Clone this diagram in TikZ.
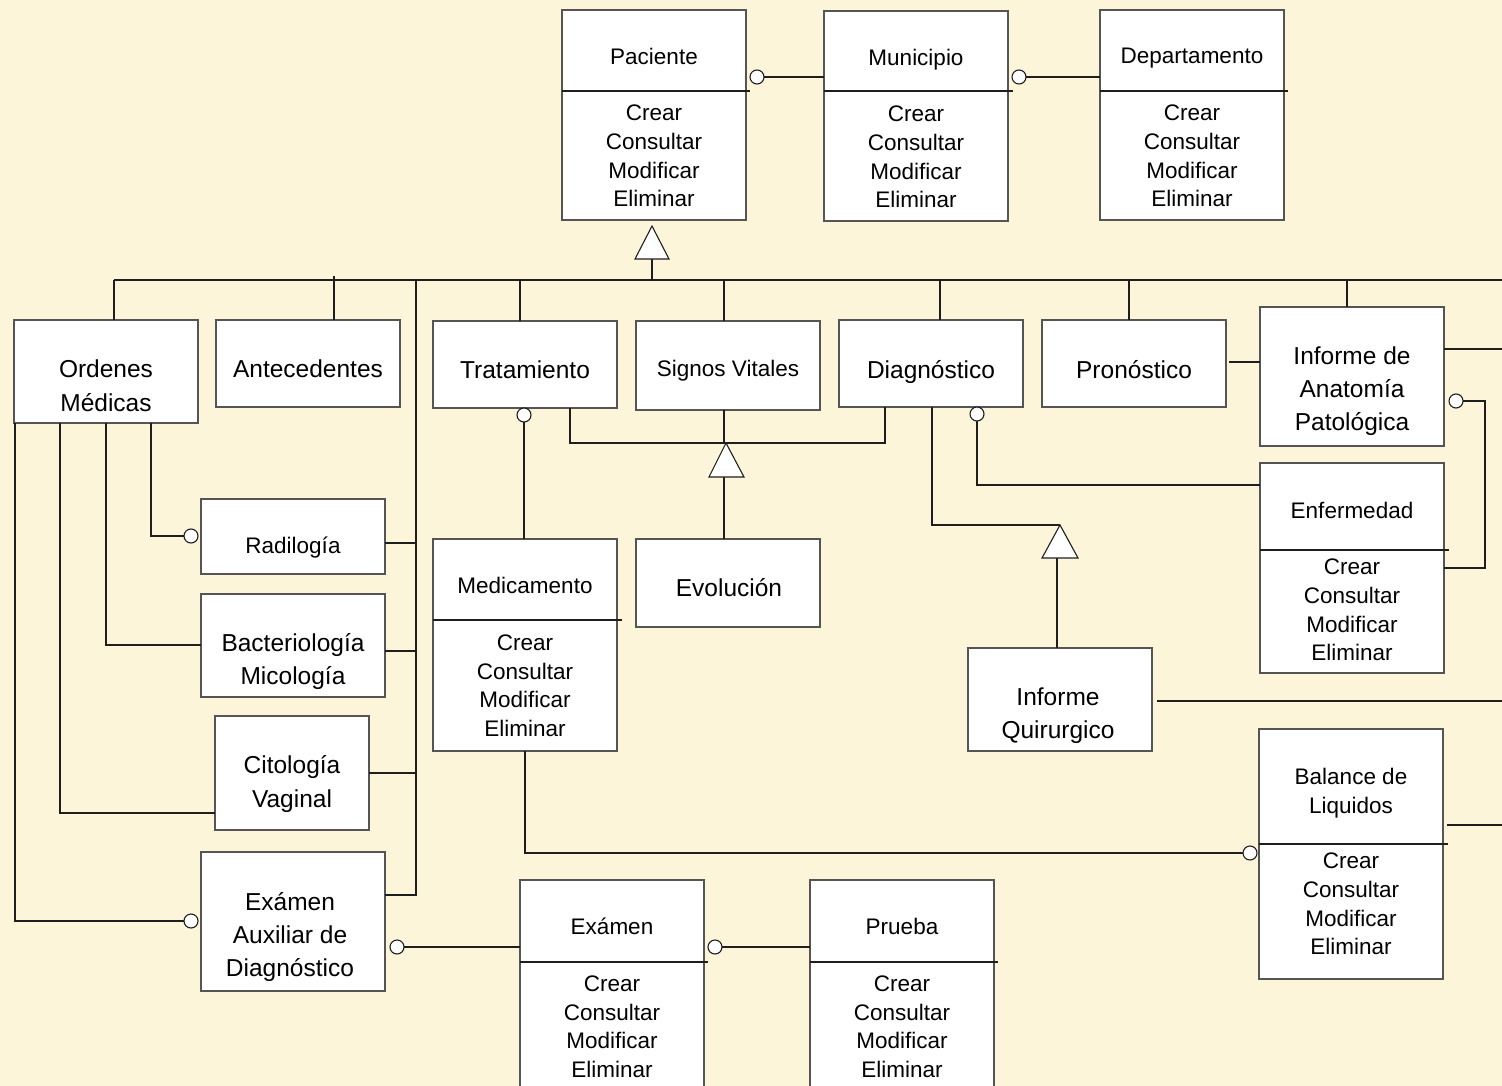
\documentclass[tikz,border=0pt]{standalone}
\usepackage{fontspec}
\setmainfont{Liberation Sans}
\definecolor{bgcol}{RGB}{252,245,218}
\definecolor{boxgray}{RGB}{85,85,85}
\definecolor{linecol}{RGB}{30,30,30}
\tikzset{
  box/.style={draw=boxgray, line width=1.3pt, fill=white, rectangle, inner sep=0pt, outer sep=0pt},
  conn/.style={draw=linecol, line width=1.1pt},
  divl/.style={draw=linecol, line width=1.1pt},
  circ/.style={circle, draw=linecol, fill=white, line width=1.1pt, minimum size=14pt, inner sep=0pt, outer sep=0pt},
  tri/.style={draw=linecol, fill=white, line width=1.1pt, line join=miter},
  ctext/.style={font=\fontsize{22.5}{28.7}\selectfont, align=center, text depth=0pt, inner sep=0pt},
  btext/.style={font=\fontsize{24.5}{33.3}\selectfont, align=center, text depth=0pt, inner sep=0pt},
}
\begin{document}
\begin{tikzpicture}[x=1pt,y=-1pt]
\useasboundingbox (0,0) rectangle (1502,1086);
\clip (0,0) rectangle (1502,1086);
\fill[bgcol] (0,0) rectangle (1502,1086);

% ---------- top row classes ----------
\node[box, minimum width=184pt, minimum height=210pt] (paciente) at (654,115) {};
\node[ctext] (pacienteH) at (654,56) {Paciente};
\node[ctext] (pacienteM) at (654,156) {Crear\\Consultar\\Modificar\\Eliminar};
\draw[divl] (paciente.west |- 0,91) -- (750,91);

\node[box, minimum width=184pt, minimum height=210pt] (municipio) at (916,116) {};
\node[ctext] (municipioH) at (916,57) {Municipio};
\node[ctext] (municipioM) at (916,157) {Crear\\Consultar\\Modificar\\Eliminar};
\draw[divl] (municipio.west |- 0,91) -- (1013,91);

\node[box, minimum width=184pt, minimum height=210pt] (departamento) at (1192,115) {};
\node[ctext] (departamentoH) at (1192,56) {Departamento};
\node[ctext] (departamentoM) at (1192,156) {Crear\\Consultar\\Modificar\\Eliminar};
\draw[divl] (departamento.west |- 0,91) -- (1288,91);

\node[circ] (c1) at (757,77) {};
\draw[conn] (c1) -- (municipio.west |- c1);
\node[circ] (c2) at (1019,77) {};
\draw[conn] (c2) -- (departamento.west |- c2);

% ---------- generalisation from Paciente ----------
\coordinate (t1a) at (652,226);
\coordinate (t1b) at (652,259);
\coordinate (t1c) at (652,280);
\draw[conn] (t1b) -- (t1c);
\draw[tri] (t1a) -- (635,259) -- (669,259) -- cycle;

% ---------- second row ----------
\node[box, minimum width=184pt, minimum height=103pt] (ordenes) at (106,371.5) {};
\node[btext] (ordenesT) at (106,385.5) {Ordenes\\Médicas};

\node[box, minimum width=184pt, minimum height=87pt] (antecedentes) at (308,363.5) {};
\node[btext] (antecedentesT) at (308,369) {Antecedentes};

\node[box, minimum width=184pt, minimum height=87pt] (tratamiento) at (525,364.5) {};
\node[btext] (tratamientoT) at (525,370) {Tratamiento};

\node[box, minimum width=184pt, minimum height=89pt] (signos) at (728,365.5) {};
\node[ctext] (signosT) at (728,368) {Signos Vitales};

\node[box, minimum width=184pt, minimum height=87pt] (diagnostico) at (931,363.5) {};
\node[btext] (diagnosticoT) at (931,369) {Diagnóstico};

\node[box, minimum width=184pt, minimum height=87pt] (pronostico) at (1134,363.5) {};
\node[btext] (pronosticoT) at (1134,369) {Pronóstico};

\node[box, minimum width=184pt, minimum height=139pt] (anatomia) at (1352,376.5) {};
\node[btext] (anatomiaT) at (1352,388.5) {Informe de\\Anatomía\\Patológica};

% ---------- bus ----------
\coordinate (bL) at (114,280);
\coordinate (bR) at (1502,280);
\draw[conn] (bL) -- (bR);
\draw[conn] (bL) -- (bL |- ordenes.north);
\coordinate (bA) at (334,276);
\draw[conn] (bA) -- (bA |- antecedentes.north);
\coordinate (bT) at (520,280);
\draw[conn] (bT) -- (bT |- tratamiento.north);
\coordinate (bS) at (724,280);
\draw[conn] (bS) -- (bS |- signos.north);
\coordinate (bD) at (940,280);
\draw[conn] (bD) -- (bD |- diagnostico.north);
\coordinate (bP) at (1129,280);
\draw[conn] (bP) -- (bP |- pronostico.north);
\coordinate (bI) at (1347,280);
\draw[conn] (bI) -- (bI |- anatomia.north);

% ---------- left column ----------
\node[box, minimum width=184pt, minimum height=75pt] (radiologia) at (293,536.5) {};
\node[ctext] (radiologiaT) at (293,545) {Radilogía};

\node[box, minimum width=184pt, minimum height=103pt] (bacterio) at (293,645.5) {};
\node[btext] (bacterioT) at (293,659) {Bacteriología\\Micología};

\node[box, minimum width=154pt, minimum height=114pt] (citologia) at (292,773) {};
\node[btext] (citologiaT) at (292,781.5) {Citología\\Vaginal};

\node[box, minimum width=184pt, minimum height=139pt] (examenaux) at (293,921.5) {};
\node[btext] (examenauxT) at (290,934.5) {Exámen\\Auxiliar de\\Diagnóstico};

% vertical bus at x=416
\coordinate (bV) at (416,280);
\coordinate (bVend) at (416,895);
\draw[conn] (bV) -- (bVend) -- (bVend -| examenaux.east);
\draw[conn] (radiologia.east |- 0,543) -- (416,543);
\draw[conn] (bacterio.east |- 0,651) -- (416,651);
\draw[conn] (citologia.east |- 0,773) -- (416,773);

% lines from Ordenes Medicas
\node[circ] (c3) at (191,536) {};
\draw[conn] (ordenes.south -| 151,0) |- (c3);
\draw[conn] (ordenes.south -| 106,0) |- (bacterio.west |- 0,645);
\draw[conn] (ordenes.south -| 60,0) |- (citologia.west |- 0,813);
\node[circ] (c4) at (191,921) {};
\draw[conn] (ordenes.south -| 15,0) |- (c4);

% ---------- middle ----------
\node[box, minimum width=184pt, minimum height=212pt] (medicamento) at (525,645) {};
\node[ctext] (medicamentoH) at (525,585) {Medicamento};
\node[ctext] (medicamentoM) at (525,685.5) {Crear\\Consultar\\Modificar\\Eliminar};
\draw[divl] (medicamento.west |- 0,620) -- (622,620);

\node[box, minimum width=184pt, minimum height=88pt] (evolucion) at (728,583) {};
\node[btext] (evolucionT) at (729,587) {Evolución};

\node[circ] (c5) at (524,415) {};
\draw[conn] (c5) -- (c5 |- medicamento.north);

\coordinate (g2L) at (570,443);
\coordinate (g2R) at (885,443);
\draw[conn] (tratamiento.south -| g2L) -- (g2L) -- (g2R) -- (diagnostico.south -| g2R);
\draw[conn] (signos.south -| 724,0) -- (724,443);
\coordinate (t2a) at (726,443);
\coordinate (t2b) at (724,477);
\draw[conn] (t2b) -- (t2b |- evolucion.north);
\draw[tri] (t2a) -- (709,477) -- (744,477) -- cycle;

% ---------- Diagnostico side ----------
\node[box, minimum width=184pt, minimum height=210pt] (enfermedad) at (1352,568) {};
\node[ctext] (enfermedadH) at (1352,510) {Enfermedad};
\node[ctext] (enfermedadM) at (1352,610) {Crear\\Consultar\\Modificar\\Eliminar};
\draw[divl] (enfermedad.west |- 0,550) -- (1449,550);

\node[circ] (c6) at (977,414) {};
\draw[conn] (c6) |- (enfermedad.west |- 0,485);

\node[box, minimum width=184pt, minimum height=103pt] (quirurgico) at (1060,699.5) {};
\node[btext] (quirurgicoT) at (1058,713) {Informe\\Quirurgico};

\coordinate (t3a) at (1060,525);
\coordinate (t3b) at (1057,558);
\draw[conn] (diagnostico.south -| 932,0) |- (t3a);
\draw[conn] (t3b) -- (t3b |- quirurgico.north);
\draw[tri] (t3a) -- (1042,558) -- (1078,558) -- cycle;

\coordinate (qR) at (1502,701);
\draw[conn] (1157,701) -- (qR);

% Pronostico - Informe de Anatomia
\draw[conn] (1229,362) -- (anatomia.west |- 0,362);
\coordinate (aR) at (1502,349);
\draw[conn] (anatomia.east |- 0,349) -- (aR);
\node[circ] (c7) at (1456,401) {};
\draw[conn] (c7) -- (1485,401) |- (enfermedad.east |- 0,568);

% ---------- Balance de Liquidos ----------
\node[box, minimum width=184pt, minimum height=250pt] (balance) at (1351,854) {};
\node[ctext] (balanceH) at (1351,790.5) {Balance de\\Liquidos};
\node[ctext] (balanceM) at (1351,904) {Crear\\Consultar\\Modificar\\Eliminar};
\draw[divl] (balance.west |- 0,844) -- (1448,844);
\coordinate (bbR) at (1502,825);
\draw[conn] (1447,825) -- (bbR);

\node[circ] (c8) at (1250,853) {};
\draw[conn] (medicamento.south -| 525,0) |- (c8);

% ---------- bottom classes ----------
\node[box, minimum width=184pt, minimum height=220pt] (examen) at (612,990) {};
\node[ctext] (examenH) at (612,926) {Exámen};
\node[ctext] (examenM) at (612,1026.5) {Crear\\Consultar\\Modificar\\Eliminar};
\draw[divl] (examen.west |- 0,962) -- (708,962);

\node[box, minimum width=184pt, minimum height=220pt] (prueba) at (902,990) {};
\node[ctext] (pruebaH) at (902,926) {Prueba};
\node[ctext] (pruebaM) at (902,1026.5) {Crear\\Consultar\\Modificar\\Eliminar};
\draw[divl] (prueba.west |- 0,962) -- (998,962);

\node[circ] (c9) at (397,947) {};
\draw[conn] (c9) -- (examen.west |- c9);
\node[circ] (c10) at (715,947) {};
\draw[conn] (c10) -- (prueba.west |- c10);
\end{tikzpicture}
\end{document}
